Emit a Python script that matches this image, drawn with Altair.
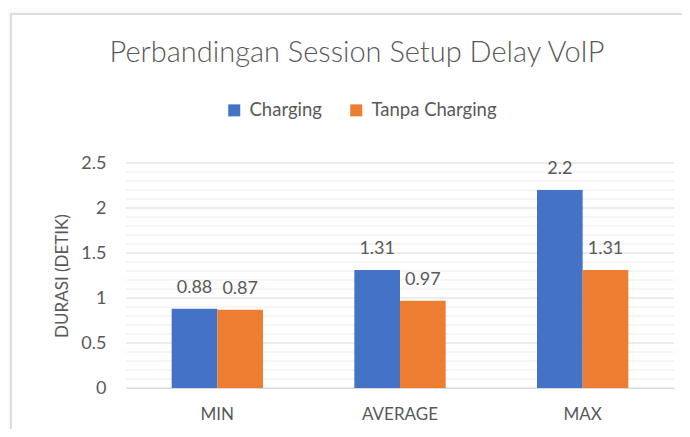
import altair as alt
import pandas as pd

categories = ["MIN", "AVERAGE", "MAX"]
series_names = ["Charging", "Tanpa Charging"]
charging = [0.88, 1.31, 2.2]
tanpa_charging = [0.87, 0.97, 1.31]
major_ticks = [0, 0.5, 1, 1.5, 2, 2.5]
minor_grid = [0.1, 0.2, 0.3, 0.4, 0.6, 0.7, 0.8, 0.9, 1.1, 1.2, 1.3, 1.4,
              1.6, 1.7, 1.8, 1.9, 2.1, 2.2, 2.3, 2.4]

rows = []
for i, c in enumerate(categories):
    rows.append({"cat": c, "series": series_names[0], "value": charging[i]})
    rows.append({"cat": c, "series": series_names[1], "value": tanpa_charging[i]})
df = pd.DataFrame(rows)
minor_df = pd.DataFrame({"value": minor_grid})
major_df = pd.DataFrame({"value": major_ticks})

FONT = "Lato"
GRAY = "#595959"

y_scale = alt.Scale(domain=[0, 2.5], nice=False)
y_axis = alt.Axis(values=major_ticks, title="DURASI (DETIK)", grid=False,
                  domain=False, ticks=False, zindex=1, format="~g",
                  labelFontSize=18, labelColor=GRAY, labelFont=FONT,
                  labelPadding=20, titleFontSize=17, titleFont=FONT,
                  titleColor=GRAY, titleFontWeight="normal", titlePadding=9)
x_enc = alt.X("cat:N", sort=categories,
              scale=alt.Scale(paddingInner=0.5, paddingOuter=0.25),
              axis=alt.Axis(title=None, labelAngle=0, labelFontSize=17,
                            labelColor=GRAY, labelFont=FONT, labelPadding=18,
                            ticks=False, domainColor="#d9d9d9", grid=False,
                            zindex=1))
xoff = alt.XOffset("series:N", sort=series_names,
                   scale=alt.Scale(paddingInner=0, paddingOuter=0))

bg = alt.Chart(alt.Data(values=[{"a": 1}])).mark_rect(
    fill="white", stroke="#dcdcdc", strokeWidth=2
).encode(x=alt.value(-115), x2=alt.value(600), y=alt.value(-149), y2=alt.value(300))

minor = alt.Chart(minor_df).mark_rule(color="#ececec", strokeWidth=1).encode(
    y=alt.Y("value:Q", scale=y_scale, axis=y_axis)
)
major = alt.Chart(major_df).mark_rule(color="#d9d9d9", strokeWidth=1).encode(
    y=alt.Y("value:Q", scale=y_scale, axis=y_axis)
)

bars = alt.Chart(df).mark_bar().encode(
    x=x_enc,
    xOffset=xoff,
    y=alt.Y("value:Q", scale=y_scale, axis=y_axis),
    color=alt.Color("series:N", sort=series_names,
                    scale=alt.Scale(domain=series_names, range=["#4472C4", "#ED7D31"]),
                    legend=alt.Legend(title=None, orient="none", direction="horizontal",
                                      legendX=99, legendY=-62,
                                      symbolType="square", symbolSize=144,
                                      symbolStrokeWidth=0, labelFontSize=18.5,
                                      labelFont=FONT, labelColor=GRAY,
                                      labelOffset=6, columnPadding=25)),
)

labels = alt.Chart(df).mark_text(
    font=FONT, fontSize=18, color=GRAY, baseline="alphabetic", dy=-16
).encode(
    x=x_enc,
    xOffset=xoff,
    y=alt.Y("value:Q", scale=y_scale, axis=y_axis),
    text=alt.Text("value:Q"),
)

chart = alt.layer(bg, minor, major, bars, labels).properties(
    width=548, height=225,
    autosize=alt.AutoSizeParams(type="none"),
    padding={"left": 118, "top": 155, "right": 8, "bottom": 41},
    background="#fafafa",
    title=alt.TitleParams("Perbandingan Session Setup Delay VoIP", fontSize=29,
                          font=FONT, fontWeight=300, color=GRAY,
                          anchor="middle", dx=-43, offset=0, dy=55),
).configure_view(stroke=None)

chart.save("out.html", embed_options={"renderer": "svg", "actions": False})
